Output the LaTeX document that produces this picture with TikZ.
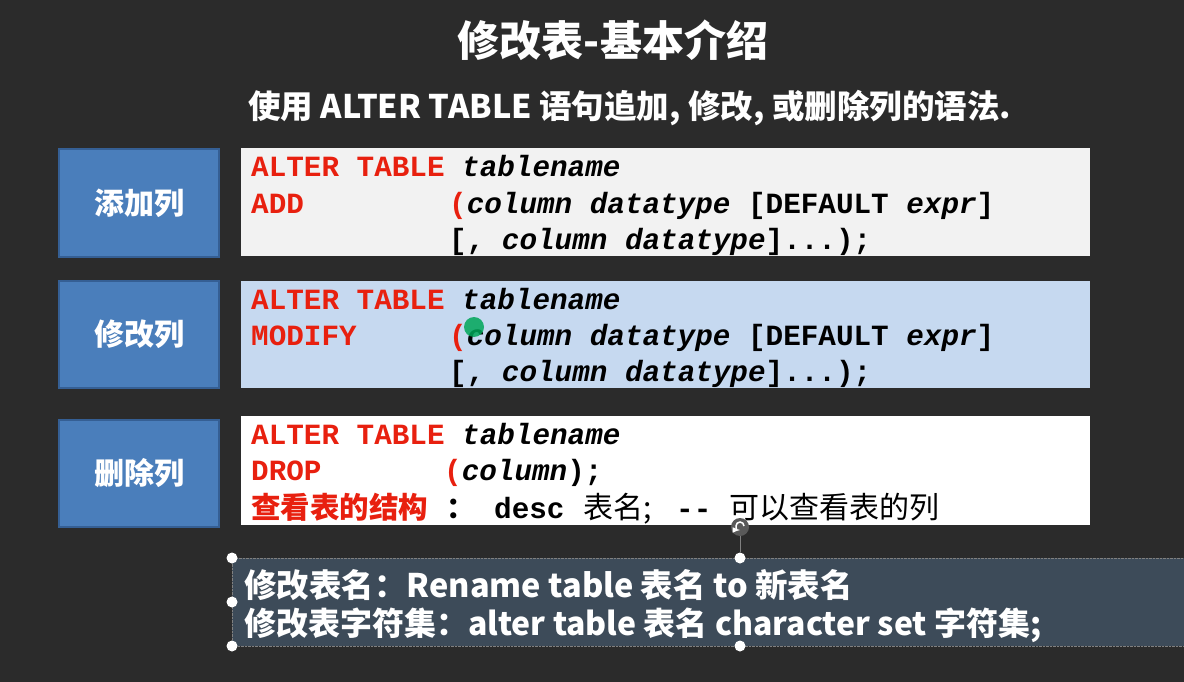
\documentclass[tikz,border=0pt]{standalone}
\usepackage{fontspec}
\usepackage{xcolor}
\setmainfont{Liberation Sans}
\newfontfamily\cjk{Noto Sans CJK SC}
\newfontfamily\code{Liberation Mono}

\definecolor{board}{HTML}{2B2B2B}
\definecolor{labelblue}{HTML}{4A7EBB}
\definecolor{labelline}{HTML}{355F94}
\definecolor{codegray}{HTML}{F2F2F2}
\definecolor{codeblue}{HTML}{C6D9F0}
\definecolor{codered}{HTML}{E8200F}
\definecolor{notebg}{HTML}{3D4B59}

\tikzset{
  labelbox/.style={draw=labelline, line width=2pt, fill=labelblue, text=white,
    minimum width=160pt, minimum height=107pt, font=\cjk\bfseries\fontsize{30}{30}\selectfont},
  codebox/.style={draw=none, anchor=north west, minimum width=849pt, minimum height=108pt, inner sep=0pt},
  codeline/.style={anchor=base west, inner sep=0pt, font=\code\bfseries\fontsize{29.3}{30}\selectfont},
  handle/.style={circle, fill=white, inner sep=0pt, minimum size=11pt}
}
\newcommand{\kw}[1]{\textcolor{codered}{#1}}
\newcommand{\ph}[1]{\textit{#1}}

\begin{document}
\begin{tikzpicture}[x=1pt,y=-1pt]
  % Board background
  \useasboundingbox (0,0) rectangle (1184,682);
  \fill[board] (0,0) rectangle (1184,682);

  % Title and subtitle
  \node[text=white, font=\cjk\bfseries\fontsize{42}{42}\selectfont] (title) at (613,40) {修改表-基本介绍};
  \node[anchor=west, inner sep=0pt, text=white, font=\cjk\bfseries\fontsize{32.5}{32}\selectfont] (subtitle) at (248,108)
    {使用 ALTER TABLE 语句追加, 修改, 或删除列的语法.};

  % Blue labels on the left
  \node[labelbox] (addlabel) at (139,203) {添加列};
  \node[labelbox] (modlabel) at (139,334) {修改列};
  \node[labelbox] (droplabel) at (139,473) {删除列};

  % Code boxes
  \node[codebox, fill=codegray] (addbox) at (241,148) {};
  \node[codebox, fill=codeblue, minimum height=107pt] (modbox) at (241,281) {};
  \node[codebox, fill=white, minimum height=109pt] (dropbox) at (241,416) {};

  % ADD
  \node[codeline] (add1) at (251,176) {\kw{ALTER TABLE} \ph{tablename}};
  \node[codeline] (add2) at (251,213) {\kw{ADD}};
  \node[codeline] (add2b) at (449,213) {\kw{(}\ph{column datatype} [DEFAULT \ph{expr}]};
  \node[codeline] (add3) at (449,249) {[, \ph{column datatype}]...);};

  % MODIFY
  \node[codeline] (mod1) at (251,309) {\kw{ALTER TABLE} \ph{tablename}};
  \node[codeline] (mod2) at (251,345) {\kw{MODIFY}};
  \node[codeline] (mod2b) at (449,345) {\kw{(}\ph{column datatype} [DEFAULT \ph{expr}]};
  \node[codeline] (mod3) at (449,381) {[, \ph{column datatype}]...);};
  \fill[teal!70!green, opacity=0.85] (474,327) circle (10);

  % DROP
  \node[codeline] (drop1) at (251,444) {\kw{ALTER TABLE} \ph{tablename}};
  \node[codeline] (drop2) at (251,480) {\kw{DROP}};
  \node[codeline] (drop2b) at (444,480) {\kw{(}\ph{column});};
  \node[anchor=base west, inner sep=0pt, text=codered, font=\cjk\bfseries\fontsize{29.5}{29}\selectfont] (desc1) at (251,518) {查看表的结构};
  \node[anchor=base west, inner sep=0pt, font=\cjk\bfseries\fontsize{29}{29}\selectfont] (desc2) at (446,518) {：};
  \node[codeline] (desc3) at (494,518) {desc};
  \node[anchor=base west, inner sep=0pt, font=\cjk\fontsize{30}{30}\selectfont] (desc4) at (583,518) {表名;};
  \node[codeline] (desc5) at (676,518) {--};
  \node[anchor=base west, inner sep=0pt, font=\cjk\fontsize{30}{30}\selectfont] (desc6) at (729,518) {可以查看表的列};

  % Note box at the bottom (selected text box)
  \fill[notebg] (232,558) rectangle (1184,646);
  \draw[gray, densely dotted] (1184,558) -- (232,558) -- (232,646) -- (1184,646);
  \node[anchor=west, inner sep=0pt, text=white, font=\cjk\bfseries\fontsize{32.5}{32}\selectfont] (note1) at (244,585)
    {修改表名：Rename table 表名 to 新表名};
  \node[anchor=west, inner sep=0pt, text=white, font=\cjk\bfseries\fontsize{32}{32}\selectfont] (note2) at (244,625)
    {修改表字符集：alter table 表名 character set 字符集;};

  % Selection handles
  \node[circle, fill=black!65, inner sep=0pt, minimum size=18pt] (rot) at (740,527) {};
  \draw[white, line width=1.5pt, -latex] (rot.center) ++(4,-1) arc (0:-270:4);
  \node[handle] (h1) at (232,558) {};
  \node[handle] (h2) at (740,558) {};
  \node[handle] (h3) at (232,602) {};
  \node[handle] (h4) at (232,646) {};
  \node[handle] (h5) at (740,646) {};
  \draw[gray] (rot) -- (h2);
\end{tikzpicture}
\end{document}
